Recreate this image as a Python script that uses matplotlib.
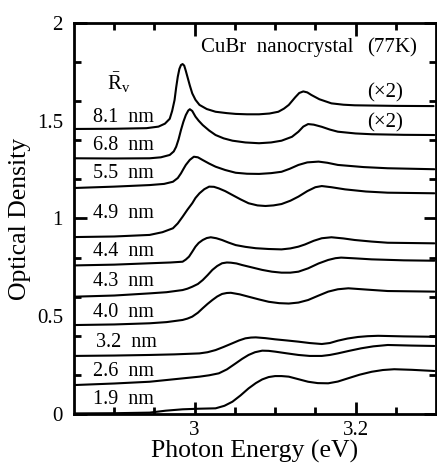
import numpy as np
import matplotlib
matplotlib.use("Agg")
import matplotlib.pyplot as plt

plt.rcParams['font.family'] = ['Liberation Serif', 'DejaVu Serif']
plt.rcParams['mathtext.fontset'] = 'custom'
plt.rcParams['mathtext.rm'] = 'Liberation Serif'
plt.rcParams['mathtext.it'] = 'Liberation Serif:italic'

# absorption spectra (eV, optical density)
x_81 = [2.850, 2.900, 2.940, 2.955, 2.963, 2.969, 2.972, 2.975, 2.977, 2.979,
        2.981, 2.983, 2.985, 2.987, 2.989, 2.991, 2.994, 2.997, 3.001, 3.006,
        3.015, 3.026, 3.040, 3.051, 3.065, 3.080, 3.093, 3.104, 3.111, 3.117,
        3.125, 3.130, 3.135, 3.140, 3.145, 3.155, 3.170, 3.185, 3.199, 3.250, 3.297]
y_81 = [1.458, 1.459, 1.462, 1.470, 1.485, 1.510, 1.550, 1.606, 1.670, 1.725,
        1.765, 1.785, 1.790, 1.782, 1.755, 1.725, 1.680, 1.640, 1.607, 1.581,
        1.560, 1.546, 1.539, 1.535, 1.533, 1.533, 1.537, 1.546, 1.562, 1.581,
        1.620, 1.642, 1.650, 1.645, 1.632, 1.610, 1.589, 1.582, 1.579, 1.576, 1.575]

x_68 = [2.850, 2.900, 2.944, 2.958, 2.969, 2.974, 2.977, 2.980, 2.983, 2.986,
        2.989, 2.992, 2.994, 2.997, 3.001, 3.005, 3.010, 3.018, 3.026, 3.036,
        3.047, 3.063, 3.080, 3.095, 3.108, 3.121, 3.129, 3.135, 3.141, 3.148,
        3.158, 3.168, 3.178, 3.200, 3.220, 3.260, 3.298]
y_68 = [1.308, 1.307, 1.308, 1.313, 1.325, 1.343, 1.367, 1.405, 1.453, 1.495,
        1.529, 1.552, 1.559, 1.550, 1.521, 1.500, 1.478, 1.450, 1.427, 1.410,
        1.398, 1.389, 1.385, 1.389, 1.398, 1.418, 1.444, 1.470, 1.483, 1.480,
        1.469, 1.455, 1.444, 1.435, 1.431, 1.428, 1.427]

x_55 = [2.850, 2.900, 2.944, 2.962, 2.973, 2.979, 2.983, 2.986, 2.989, 2.994,
        2.999, 3.004, 3.010, 3.018, 3.026, 3.038, 3.051, 3.065, 3.080, 3.095,
        3.108, 3.118, 3.129, 3.140, 3.154, 3.165, 3.178, 3.210, 3.240, 3.298]
y_55 = [1.156, 1.163, 1.171, 1.177, 1.188, 1.207, 1.231, 1.253, 1.274, 1.300,
        1.316, 1.313, 1.299, 1.281, 1.265, 1.248, 1.234, 1.229, 1.228, 1.232,
        1.239, 1.254, 1.274, 1.287, 1.291, 1.285, 1.274, 1.263, 1.257, 1.252]

x_49 = [2.850, 2.900, 2.944, 2.960, 2.973, 2.979, 2.985, 2.991, 2.997, 3.001,
        3.006, 3.012, 3.018, 3.024, 3.030, 3.038, 3.047, 3.057, 3.067, 3.078,
        3.088, 3.098, 3.108, 3.119, 3.129, 3.140, 3.150, 3.158, 3.170, 3.187,
        3.213, 3.240, 3.298]
y_49 = [0.905, 0.908, 0.916, 0.930, 0.950, 0.975, 1.009, 1.045, 1.078, 1.105,
        1.129, 1.150, 1.163, 1.162, 1.154, 1.140, 1.120, 1.098, 1.078, 1.067,
        1.064, 1.067, 1.074, 1.091, 1.112, 1.140, 1.160, 1.166, 1.160, 1.149,
        1.138, 1.132, 1.129]

x_44 = [2.850, 2.900, 2.944, 2.970, 2.985, 2.989, 2.993, 2.997, 3.001, 3.005,
        3.010, 3.015, 3.020, 3.027, 3.034, 3.042, 3.051, 3.063, 3.076, 3.092,
        3.108, 3.119, 3.129, 3.137, 3.148, 3.158, 3.170, 3.185, 3.199, 3.220,
        3.240, 3.298]
y_44 = [0.760, 0.764, 0.771, 0.775, 0.779, 0.790, 0.805, 0.830, 0.856, 0.875,
        0.890, 0.900, 0.904, 0.899, 0.890, 0.877, 0.864, 0.855, 0.848, 0.844,
        0.842, 0.847, 0.856, 0.867, 0.886, 0.899, 0.904, 0.898, 0.890, 0.882,
        0.876, 0.873]

x_43 = [2.850, 2.900, 2.944, 2.965, 2.985, 2.991, 2.997, 3.004, 3.010, 3.016,
        3.022, 3.028, 3.034, 3.040, 3.045, 3.052, 3.059, 3.071, 3.084, 3.096,
        3.108, 3.119, 3.129, 3.141, 3.154, 3.166, 3.175, 3.182, 3.200, 3.220,
        3.260, 3.298]
y_43 = [0.600, 0.606, 0.617, 0.623, 0.634, 0.641, 0.651, 0.665, 0.685, 0.710,
        0.737, 0.757, 0.771, 0.775, 0.774, 0.770, 0.762, 0.750, 0.737, 0.728,
        0.723, 0.723, 0.728, 0.745, 0.770, 0.788, 0.797, 0.800, 0.796, 0.791,
        0.786, 0.784]

x_40 = [2.850, 2.900, 2.944, 2.965, 2.985, 2.991, 2.997, 3.004, 3.010, 3.016,
        3.022, 3.028, 3.034, 3.040, 3.045, 3.056, 3.067, 3.080, 3.092, 3.105,
        3.117, 3.129, 3.141, 3.153, 3.166, 3.178, 3.191, 3.215, 3.240, 3.298]
y_40 = [0.455, 0.458, 0.464, 0.470, 0.481, 0.488, 0.498, 0.518, 0.541, 0.563,
        0.583, 0.601, 0.614, 0.619, 0.620, 0.612, 0.600, 0.586, 0.574, 0.567,
        0.565, 0.570, 0.583, 0.604, 0.626, 0.638, 0.643, 0.636, 0.629, 0.626]

x_32 = [2.850, 2.900, 2.944, 2.975, 3.006, 3.016, 3.026, 3.036, 3.047, 3.055,
        3.063, 3.070, 3.076, 3.088, 3.100, 3.115, 3.129, 3.143, 3.158, 3.168,
        3.178, 3.190, 3.203, 3.215, 3.228, 3.260, 3.298]
y_32 = [0.297, 0.299, 0.302, 0.305, 0.310, 0.316, 0.327, 0.343, 0.362, 0.376,
        0.387, 0.391, 0.392, 0.388, 0.382, 0.376, 0.370, 0.363, 0.358, 0.363,
        0.375, 0.386, 0.394, 0.398, 0.400, 0.397, 0.395]

x_26 = [2.850, 2.900, 2.944, 2.975, 3.006, 3.018, 3.030, 3.040, 3.051, 3.059,
        3.067, 3.075, 3.084, 3.092, 3.100, 3.115, 3.129, 3.143, 3.158, 3.168,
        3.178, 3.192, 3.207, 3.222, 3.240, 3.270, 3.298]
y_26 = [0.148, 0.156, 0.165, 0.178, 0.191, 0.198, 0.208, 0.228, 0.259, 0.282,
        0.302, 0.316, 0.324, 0.323, 0.319, 0.310, 0.302, 0.297, 0.297, 0.302,
        0.310, 0.323, 0.336, 0.346, 0.353, 0.350, 0.348]

x_19 = [2.850, 2.900, 2.944, 2.964, 2.985, 3.005, 3.026, 3.037, 3.047, 3.057,
        3.067, 3.076, 3.084, 3.092, 3.100, 3.108, 3.117, 3.129, 3.141, 3.153,
        3.166, 3.178, 3.191, 3.205, 3.220, 3.234, 3.248, 3.270, 3.298]
y_19 = [0.003, 0.004, 0.007, 0.017, 0.024, 0.027, 0.029, 0.042, 0.063, 0.095,
        0.131, 0.158, 0.177, 0.189, 0.194, 0.194, 0.191, 0.178, 0.165, 0.158,
        0.157, 0.166, 0.183, 0.201, 0.216, 0.225, 0.229, 0.226, 0.220]

sizes = ['8.1', '6.8', '5.5', '4.9', '4.4', '4.3', '4.0', '3.2', '2.6', '1.9']
xs = [x_81, x_68, x_55, x_49, x_44, x_43, x_40, x_32, x_26, x_19]
ys = [y_81, y_68, y_55, y_49, y_44, y_43, y_40, y_32, y_26, y_19]
label_y = [1.519, 1.371, 1.228, 1.028, 0.829, 0.680, 0.517, 0.368, 0.215, 0.072]
label_x = [2.873, 2.873, 2.873, 2.873, 2.873, 2.873, 2.873, 2.877, 2.873, 2.873]

fig = plt.figure(figsize=(4.37, 4.68), dpi=100)
ax = fig.add_axes([74 / 437, 1 - 414 / 468, 362 / 437, 391 / 468])

for x, y in zip(xs, ys):
    ax.plot(x, y, color='black', lw=1.5, solid_joinstyle='round', solid_capstyle='round')

for s, lx, ly in zip(sizes, label_x, label_y):
    ax.text(lx, ly, s + '  nm', fontsize=14.5, va='center', ha='left')

ax.text(2.891, 1.693, r'$\bar{\mathrm{R}}_{\mathrm{v}}$', fontsize=15, va='center', ha='left')
ax.text(3.008, 1.877, 'CuBr  nanocrystal', fontsize=15, va='center', ha='left')
ax.text(3.215, 1.872, '(77K)', fontsize=15, va='center', ha='left')
ax.text(3.215, 1.642, '(\u00d72)', fontsize=15, va='center', ha='left')
ax.text(3.215, 1.488, '(\u00d72)', fontsize=15, va='center', ha='left')

ax.set_xlim(2.85, 3.3)
ax.set_ylim(0, 2)

ax.set_xticks([3.0, 3.2])
ax.set_xticklabels(['3', '3.2'])
ax.set_xticks(np.arange(2.9, 3.3, 0.05), minor=True)
ax.set_yticks([0, 0.5, 1, 1.5, 2])
ax.set_yticklabels(['0', '0.5', '1', '1.5', '2'])
ax.set_yticks([0.2, 0.4, 0.6, 0.8, 1.2, 1.4, 1.6, 1.8], minor=True)

ax.tick_params(which='both', direction='in', top=True, right=True, width=2, labelsize=15)
ax.tick_params(which='major', length=9, pad=8)
ax.tick_params(axis='x', which='major', pad=5)
ax.tick_params(which='minor', length=5)
for t in ax.yaxis.get_major_ticks():
    if t.get_loc() in (0.5, 1.5):
        t.tick1line.set_visible(False)
        t.tick2line.set_visible(False)

for sp in ax.spines.values():
    sp.set_linewidth(2)

ax.set_xlabel('Photon Energy (eV)', fontsize=18.5)
ax.xaxis.set_label_coords(0.5, -0.097)
ax.xaxis.label.set_va('center')
ax.set_ylabel('Optical Density', fontsize=18.5)
ax.yaxis.set_label_coords(-0.149, 0.5)
ax.yaxis.label.set_va('center')

fig.savefig('out.png', dpi=100)
